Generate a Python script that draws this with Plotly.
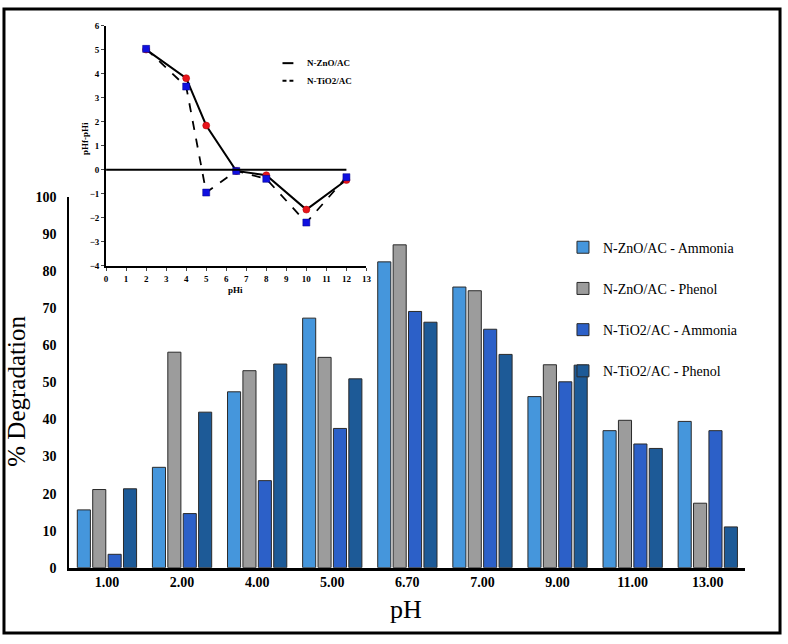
import plotly.graph_objects as go

W, H = 788, 644

categories = ["1.00", "2.00", "4.00", "5.00", "6.70", "7.00", "9.00", "11.00", "13.00"]
series_names = ["N-ZnO/AC - Ammonia", "N-ZnO/AC - Phenol", "N-TiO2/AC - Ammonia", "N-TiO2/AC - Phenol"]
zno_ammonia = [15.6, 27.1, 47.5, 67.4, 82.6, 75.8, 46.2, 37.0, 39.5]
zno_phenol = [21.1, 58.2, 53.2, 56.8, 87.2, 74.8, 54.8, 39.8, 17.4]
tio2_ammonia = [3.6, 14.6, 23.5, 37.6, 69.2, 64.4, 50.2, 33.4, 37.0]
tio2_phenol = [21.3, 42.0, 55.0, 51.0, 66.3, 57.6, 54.7, 32.2, 11.0]
bar_colors = ["#4596dc", "#9c9c9c", "#2c60c8", "#1d5a97"]

# inset data
phi = [2, 4, 5, 6.5, 8, 10, 12]
zno_dph = [5.0, 3.81, 1.84, -0.05, -0.23, -1.66, -0.43]
tio2_dph = [5.03, 3.46, -0.95, -0.05, -0.38, -2.2, -0.31]
inset_xticks = list(range(0, 14))
inset_yticks = list(range(-4, 7))
main_yticks = list(range(0, 101, 10))

def px_x(p):
    return p / W

def px_y(p):
    return 1 - p / H

fig = go.Figure()
for name, vals, col in zip(series_names, [zno_ammonia, zno_phenol, tio2_ammonia, tio2_phenol], bar_colors):
    fig.add_trace(go.Bar(
        x=categories, y=vals, name=name, legendgroup=name,
        marker=dict(color=col, line=dict(color="#2a2a2a", width=1)),
        xaxis="x", yaxis="y"))

fig.add_trace(go.Scatter(
    x=phi, y=zno_dph, mode="lines+markers", name="N-ZnO/AC", showlegend=False,
    line=dict(color="black", width=2),
    marker=dict(symbol="circle", size=7, color="#e8141c", line=dict(color="#a00", width=0.5)),
    xaxis="x2", yaxis="y2"))
fig.add_trace(go.Scatter(
    x=phi, y=tio2_dph, mode="lines+markers", name="N-TiO2/AC", showlegend=False,
    line=dict(color="black", width=1.8, dash="dash"),
    marker=dict(symbol="square", size=7, color="#1010e0", line=dict(color="#000080", width=0.5)),
    xaxis="x2", yaxis="y2"))

serif = "Liberation Serif"
inset_font = dict(family=serif, size=9, weight="bold")

fig.update_layout(
    width=W, height=H,
    margin=dict(l=0, r=0, t=0, b=0),
    paper_bgcolor="white", plot_bgcolor="rgba(0,0,0,0)",
    barmode="group", bargap=0.18, bargroupgap=0.15,
    font=dict(family=serif, color="black"),
    xaxis=dict(domain=[px_x(68), px_x(750)], showline=True, linecolor="black", linewidth=2.5,
               ticks="", showgrid=False, tickfont=dict(family=serif, size=14, weight="bold"),
               type="category", categoryorder="array", categoryarray=categories),
    yaxis=dict(domain=[px_y(574), px_y(195)], range=[0, 100], showline=True, linecolor="black",
               linewidth=2, ticks="", showgrid=False, tickvals=main_yticks,
               tickfont=dict(family=serif, size=14, weight="bold"), ticklabelstandoff=8, zeroline=False),
    xaxis2=dict(domain=[px_x(105), px_x(367.7)], anchor="y2", range=[0, 13], tickvals=inset_xticks,
                showline=True, linecolor="black", linewidth=2, ticks="outside", ticklen=3, tickwidth=1,
                showgrid=False, zeroline=False, tickfont=inset_font),
    yaxis2=dict(domain=[px_y(265), px_y(19)], anchor="x2", range=[-4, 6], tickvals=inset_yticks,
                showline=True, linecolor="black", linewidth=2, ticks="outside", ticklen=3, tickwidth=1,
                showgrid=False, zeroline=False, tickfont=inset_font),
    legend=dict(x=px_x(566), y=px_y(230), xanchor="left", yanchor="top", tracegroupgap=20,
                font=dict(family=serif, size=14), bgcolor="rgba(0,0,0,0)"),
)

shapes = [
    # outer frame
    dict(type="rect", xref="paper", yref="paper", x0=px_x(2), x1=px_x(785), y0=px_y(641), y1=px_y(2),
         line=dict(color="black", width=3)),
    # inset zero line
    dict(type="line", xref="x2", yref="y2", x0=0, x1=12, y0=0, y1=0, line=dict(color="black", width=2)),
    # inset legend samples
    dict(type="line", xref="paper", yref="paper", x0=px_x(283), x1=px_x(294), y0=px_y(57.5), y1=px_y(57.5),
         line=dict(color="black", width=2)),
    dict(type="line", xref="paper", yref="paper", x0=px_x(283), x1=px_x(294), y0=px_y(75.5), y1=px_y(75.5),
         line=dict(color="black", width=2, dash="4px,3px")),
]
annotations = [
    dict(text="% Degradation", xref="paper", yref="paper", x=px_x(15), y=px_y(393), textangle=-90,
         xanchor="center", yanchor="middle", showarrow=False, font=dict(family=serif, size=25)),
    dict(text="pH", xref="paper", yref="paper", x=px_x(408), y=px_y(617), xanchor="center",
         yanchor="middle", showarrow=False, font=dict(family=serif, size=26)),
    dict(text="pHf-pHi", xref="paper", yref="paper", x=px_x(84), y=px_y(135), textangle=-90,
         xanchor="center", yanchor="middle", showarrow=False, font=inset_font),
    dict(text="pHi", xref="paper", yref="paper", x=px_x(236), y=px_y(290), xanchor="center",
         yanchor="middle", showarrow=False, font=inset_font),
    dict(text="N-ZnO/AC", xref="paper", yref="paper", x=px_x(306), y=px_y(57.5), xanchor="left",
         yanchor="middle", showarrow=False, font=inset_font),
    dict(text="N-TiO2/AC", xref="paper", yref="paper", x=px_x(306), y=px_y(75.5), xanchor="left",
         yanchor="middle", showarrow=False, font=inset_font),
]
fig.update_layout(shapes=shapes, annotations=annotations)

fig.write_html("out.html")
